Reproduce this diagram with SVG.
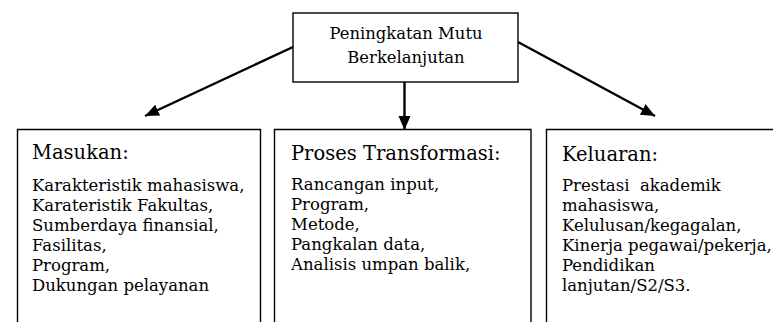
<svg xmlns="http://www.w3.org/2000/svg" width="773" height="322" viewBox="0 0 773 322">
<style>
.box{fill:none;stroke:#000;stroke-width:1.4}
.t{font-family:"DejaVu Serif","Liberation Serif",serif;fill:#000}
.top{font-size:16.4px}
.hd{font-size:19.5px}
.it{font-size:16.5px}
.con{stroke:#000;stroke-width:2.4;fill:none}
</style>
<defs>
<marker id="ah" markerUnits="userSpaceOnUse" markerWidth="16" markerHeight="14" refX="14" refY="6" orient="auto" viewBox="0 0 16 14">
<path d="M0,0 L14,6 L0,12 z" fill="#000"/>
</marker>
</defs>
<rect x="0" y="0" width="773" height="322" fill="#fff"/>
<g id="connectors">
<line class="con" x1="293" y1="47" x2="145" y2="116" marker-end="url(#ah)"/>
<line class="con" x1="404.5" y1="82" x2="404.5" y2="130" marker-end="url(#ah)"/>
<line class="con" x1="518" y1="42" x2="655" y2="116" marker-end="url(#ah)"/>
</g>
<g id="top">
<rect class="box" x="293" y="13" width="225" height="69" fill="#fff"/>
<text class="t top" x="406" y="39" text-anchor="middle">Peningkatan Mutu</text>
<text class="t top" x="406" y="63" text-anchor="middle">Berkelanjutan</text>
</g>
<g id="masukan">
<path class="box" d="M17.5,323 V129.5 H260.5 V323"/>
<text class="t hd" x="32" y="159">Masukan:</text>
<text class="t it" x="32" y="191">Karakteristik mahasiswa,</text>
<text class="t it" x="32" y="211">Karateristik Fakultas,</text>
<text class="t it" x="32" y="231">Sumberdaya finansial,</text>
<text class="t it" x="32" y="251">Fasilitas,</text>
<text class="t it" x="32" y="271">Program,</text>
<text class="t it" x="32" y="291">Dukungan pelayanan</text>
</g>
<g id="proses">
<path class="box" d="M274.5,323 V129.5 H531 V323"/>
<text class="t hd" x="291" y="160">Proses Transformasi:</text>
<text class="t it" x="291" y="190">Rancangan input,</text>
<text class="t it" x="291" y="210">Program,</text>
<text class="t it" x="291" y="230">Metode,</text>
<text class="t it" x="291" y="250">Pangkalan data,</text>
<text class="t it" x="291" y="270">Analisis umpan balik,</text>
</g>
<g id="keluaran">
<path class="box" d="M546.5,323 V129.5 H774"/>
<text class="t hd" x="562" y="161">Keluaran:</text>
<text class="t it" x="562" y="191" xml:space="preserve">Prestasi  akademik</text>
<text class="t it" x="562" y="211">mahasiswa,</text>
<text class="t it" x="562" y="231">Kelulusan/kegagalan,</text>
<text class="t it" x="562" y="251">Kinerja pegawai/pekerja,</text>
<text class="t it" x="562" y="271">Pendidikan</text>
<text class="t it" x="562" y="291">lanjutan/S2/S3.</text>
</g>
</svg>
